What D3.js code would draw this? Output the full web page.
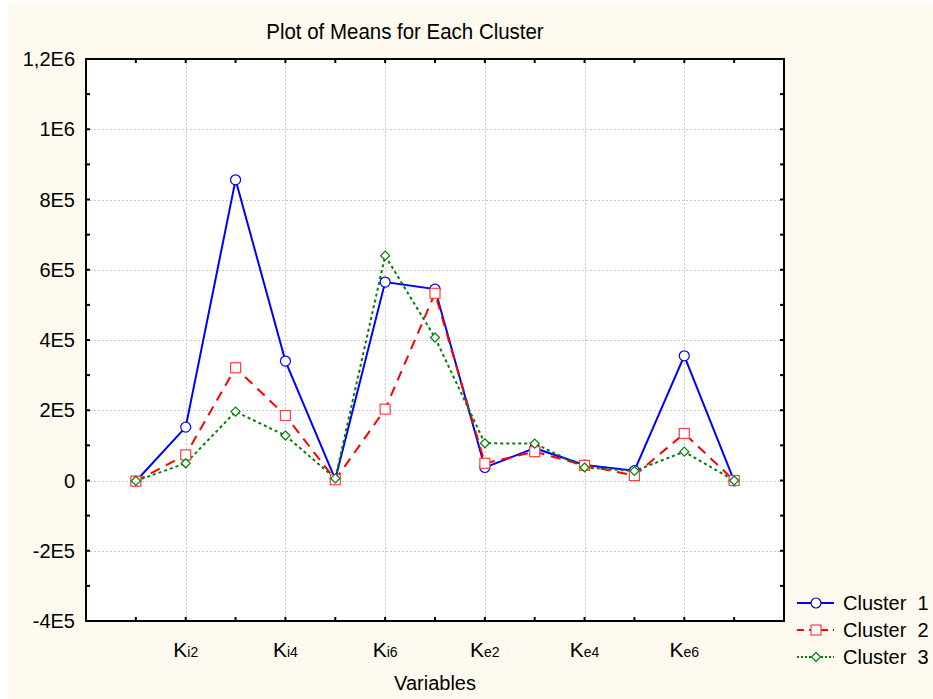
<!DOCTYPE html>
<html>
  <head>
    <title>Plot of Means for Each Cluster</title>
    <script src="https://cdnjs.cloudflare.com/ajax/libs/d3/7.8.5/d3.min.js"></script>
    <style type="text/css">
        html, body{
            padding: 0px;
            margin: 0px;
            background: #ffffff;
        }
        svg text{
            font-family: "Liberation Sans", Arial, sans-serif;
            fill: #000;
        }
    </style>
  </head>
  <body>
    <div id="vis"></div>
    <script type="text/javascript">

        // 13 variables, only every second one gets a label
        var variables = ["Ki1", "Ki2", "Ki3", "Ki4", "Ki5", "Ki6", "Ke1", "Ke2", "Ke3", "Ke4", "Ke5", "Ke6", "Ke7"];
        var tickLabels = ["Ki2", "Ki4", "Ki6", "Ke2", "Ke4", "Ke6"];

        var cluster1 = [-2000, 152000, 856000, 340000, 3000, 565000, 545000, 37000, 92000, 44000, 28000, 355000, -1000];
        var cluster2 = [-2000, 73000, 321000, 185000, 2000, 203000, 533000, 49000, 82000, 43000, 14000, 134000, 0];
        var cluster3 = [-1000, 49000, 196000, 128000, 6000, 640000, 407000, 106000, 105000, 37000, 27000, 82000, 0];

        var yTicks = [-400000, -200000, 0, 200000, 400000, 600000, 800000, 1000000, 1200000];
        var yTickLabels = ["-4E5", "-2E5", "0", "2E5", "4E5", "6E5", "8E5", "1E6", "1,2E6"];

        var seriesNames = ["Cluster  1", "Cluster  2", "Cluster  3"];

        var width = 933, height = 699;
        var m = {left: 86, right: 784, top: 59, bottom: 621};

        var svg = d3.select("#vis").append("svg")
            .attr("width", width)
            .attr("height", height);

        // cream background with thin white margin
        svg.append("rect")
            .attr("x", 8).attr("y", 4)
            .attr("width", width - 8).attr("height", height - 4)
            .attr("fill", "#fefaef");

        var x = d3.scaleLinear().domain([0, variables.length + 1]).range([m.left, m.right]);
        var y = d3.scaleLinear().domain([-400000, 1200000]).range([m.bottom, m.top]);

        svg.append("rect")
            .attr("x", m.left).attr("y", m.top)
            .attr("width", m.right - m.left).attr("height", m.bottom - m.top)
            .attr("fill", "#ffffff");

        // grid
        var grid = svg.append("g").attr("stroke", "#c8c8c8").attr("stroke-dasharray", "2,2").attr("stroke-width", 1);
        yTicks.slice(1, -1).forEach(function(v){
            grid.append("line")
                .attr("x1", m.left).attr("x2", m.right)
                .attr("y1", Math.round(y(v)) + 0.5).attr("y2", Math.round(y(v)) + 0.5);
        });
        variables.forEach(function(v, i){
            if(i % 2 == 1){
                grid.append("line")
                    .attr("x1", Math.round(x(i + 1)) + 0.5).attr("x2", Math.round(x(i + 1)) + 0.5)
                    .attr("y1", m.top).attr("y2", m.bottom);
            }
        });

        // ticks (inward, on all four sides)
        var ticks = svg.append("g").attr("stroke", "#000").attr("stroke-width", 2);
        var xt = d3.range(1, variables.length + 1);
        xt.forEach(function(i){
            var xx = x(i);
            ticks.append("line").attr("x1", xx).attr("x2", xx).attr("y1", m.bottom).attr("y2", m.bottom - 4);
            ticks.append("line").attr("x1", xx).attr("x2", xx).attr("y1", m.top).attr("y2", m.top + 4);
        });
        d3.range(-400000, 1200001, 100000).forEach(function(v){
            var yy = y(v);
            ticks.append("line").attr("x1", m.left).attr("x2", m.left + 4).attr("y1", yy).attr("y2", yy);
            ticks.append("line").attr("x1", m.right).attr("x2", m.right - 4).attr("y1", yy).attr("y2", yy);
        });

        svg.append("rect")
            .attr("x", m.left).attr("y", m.top)
            .attr("width", m.right - m.left).attr("height", m.bottom - m.top)
            .attr("fill", "none").attr("stroke", "#000").attr("stroke-width", 2);

        // y labels
        svg.append("g").selectAll("text")
            .data(yTicks)
            .enter().append("text")
            .attr("x", m.left - 11)
            .attr("y", function(d){ return y(d); })
            .attr("dy", "0.35em")
            .attr("text-anchor", "end")
            .attr("font-size", 20)
            .text(function(d, i){ return yTickLabels[i]; });

        // x labels: big K and smaller subscript part
        var xl = svg.append("g").selectAll("text")
            .data(tickLabels)
            .enter().append("text")
            .attr("x", function(d){ return x(variables.indexOf(d) + 1); })
            .attr("y", 657)
            .attr("text-anchor", "middle");
        xl.append("tspan").attr("font-size", 21).text(function(d){ return d[0]; });
        xl.append("tspan").attr("font-size", 14).text(function(d){ return d.slice(1); });

        svg.append("text")
            .attr("x", 405).attr("y", 39)
            .attr("text-anchor", "middle")
            .attr("font-size", 22)
            .attr("transform", "translate(405,0) scale(0.93,1) translate(-405,0)")
            .text("Plot of Means for Each Cluster");

        svg.append("text")
            .attr("x", (m.left + m.right) / 2).attr("y", 690)
            .attr("text-anchor", "middle")
            .attr("font-size", 20)
            .text("Variables");

        var series = [
            {name: seriesNames[0], values: cluster1, color: "#0000ff", dash: null, marker: "circle"},
            {name: seriesNames[1], values: cluster2, color: "#ff0000", dash: "10,7", marker: "square"},
            {name: seriesNames[2], values: cluster3, color: "#008000", dash: "3,3", marker: "diamond"}
        ];

        var line = d3.line()
            .x(function(d, i){ return x(i + 1); })
            .y(function(d){ return y(d); });

        function drawMarker(g, type, color, cx, cy){
            if(type == "circle"){
                g.append("circle").attr("cx", cx).attr("cy", cy).attr("r", 5)
                    .attr("fill", "#fff").attr("stroke", color).attr("stroke-width", 1.2);
            }else if(type == "square"){
                g.append("rect").attr("x", cx - 5).attr("y", cy - 5).attr("width", 10).attr("height", 10)
                    .attr("fill", "#fff").attr("stroke", "#ff4040").attr("stroke-width", 1.2);
            }else{
                g.append("path")
                    .attr("d", "M" + cx + "," + (cy - 4.5) + "L" + (cx + 4.5) + "," + cy + "L" + cx + "," + (cy + 4.5) + "L" + (cx - 4.5) + "," + cy + "Z")
                    .attr("fill", "#fff").attr("stroke", color).attr("stroke-width", 1.2);
            }
        }

        series.forEach(function(s){
            svg.append("path")
                .datum(s.values)
                .attr("d", line)
                .attr("fill", "none")
                .attr("stroke", s.color)
                .attr("stroke-width", 2)
                .attr("stroke-dasharray", s.dash);
        });
        series.forEach(function(s){
            var g = svg.append("g");
            s.values.forEach(function(v, i){
                drawMarker(g, s.marker, s.color, x(i + 1), y(v));
            });
        });

        // legend
        var leg = svg.append("g");
        series.forEach(function(s, i){
            var ly = 603 + i * 27;
            leg.append("line")
                .attr("x1", 797).attr("x2", 834).attr("y1", ly).attr("y2", ly)
                .attr("stroke", s.color).attr("stroke-width", 2)
                .attr("stroke-dasharray", s.dash == null ? null : (i == 1 ? "7,5" : "2,2"));
            drawMarker(leg, s.marker, s.color, 816, ly);
            leg.append("text")
                .attr("x", 843).attr("y", ly)
                .attr("dy", "0.35em")
                .attr("font-size", 20)
                .attr("xml:space", "preserve")
                .style("white-space", "pre")
                .text(s.name);
        });

    </script>
  </body>
</html>
